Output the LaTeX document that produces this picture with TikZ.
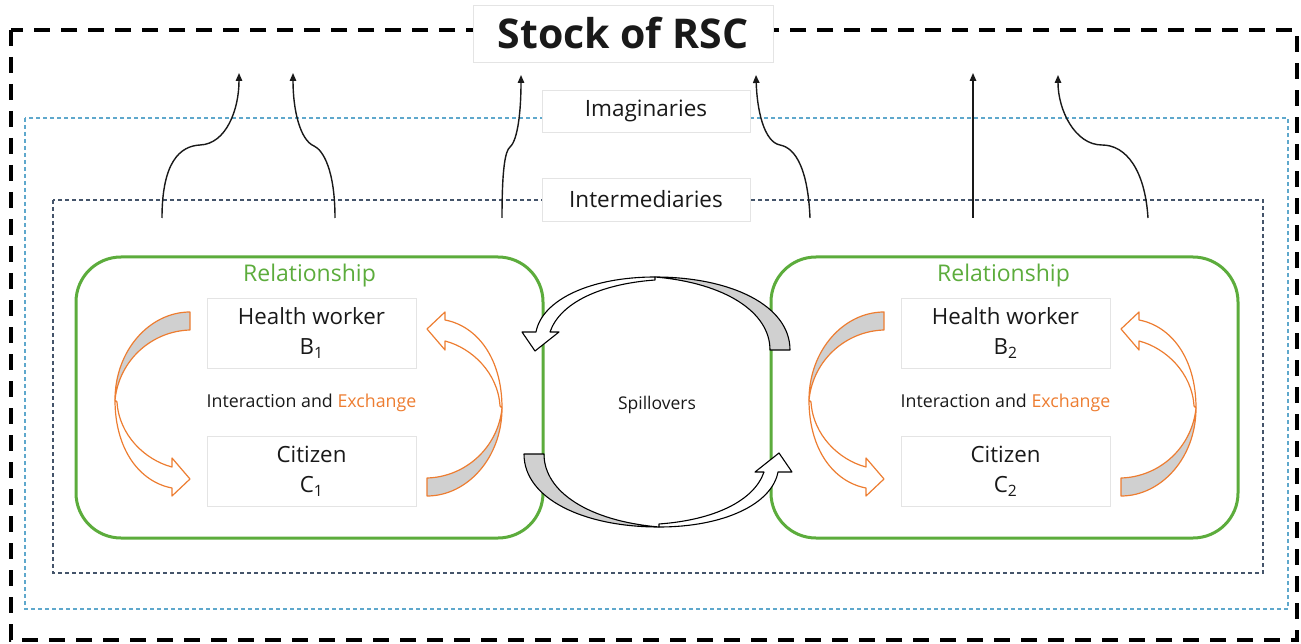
\documentclass[tikz,border=0pt]{standalone}
\usepackage{fontspec}
\setmainfont{Open Sans}
\usetikzlibrary{arrows.meta}
\definecolor{rgreen}{RGB}{92,172,60}
\definecolor{rorange}{RGB}{237,125,49}
\definecolor{rblue}{RGB}{95,168,204}
\definecolor{rslate}{RGB}{68,84,106}
\definecolor{rgray}{RGB}{208,208,208}
\definecolor{rtext}{RGB}{25,25,25}
\definecolor{rfaint}{RGB}{228,228,228}
\newcommand{\relarrowshape}{%
  \filldraw[orangeshape, fill=rgray] (190,312) .. controls (150,312) and (115,350) .. (115,400)
     .. controls (119,360) and (152,331) .. (190,330) -- cycle;
  \filldraw[orangeshape, fill=white] (115,400) .. controls (115,450) and (140,482) .. (172,488)
     -- (172,496) -- (190,479) -- (172,458) -- (172,467)
     .. controls (145,460) and (119,435) .. (117,402) -- cycle;
}
\newcommand{\spillshape}{%
  \filldraw[spillsty, fill=rgray] (790,350) .. controls (790,305) and (730,277) .. (655,277)
     .. controls (725,283) and (770,312) .. (770,350) -- cycle;
  \filldraw[spillsty, fill=white] (655,277) .. controls (590,277) and (542,300) .. (536,332)
     -- (522,332) -- (535,351) -- (559,332) -- (550,332)
     .. controls (560,303) and (600,284) .. (655,280) -- cycle;
}
\begin{document}
\begin{tikzpicture}[x=1pt,y=-1pt,
  outerbox/.style={draw=black, line width=3.5pt, dash pattern=on 16pt off 11pt},
  imagbox/.style={draw=rblue, line width=1.5pt, dash pattern=on 4pt off 3pt},
  interbox/.style={draw=rslate, line width=1.3pt, dash pattern=on 4pt off 3pt},
  relbox/.style={draw=rgreen, line width=3pt, rounded corners=45pt},
  labelbox/.style={draw=rfaint, fill=white, line width=0.8pt, inner sep=0pt, text=rtext},
  actorbox/.style={labelbox, minimum width=209pt, minimum height=70pt, align=center,
     font=\fontsize{22.3}{30}\selectfont},
  orangeshape/.style={draw=rorange, line width=1.2pt, line join=round},
  spillsty/.style={draw=black, line width=1.1pt, line join=round},
  arr/.style={draw=rtext, line width=1.4pt, -{Triangle[length=8pt,width=6.5pt]}},
  plain/.style={inner sep=0pt, text=rtext}
]
\useasboundingbox (0,0) rectangle (1301,644);
% frames
\draw[outerbox] (11,30) rectangle (1297,640);
\draw[imagbox] (25,118) rectangle (1288,609);
\draw[interbox] (53,200) rectangle (1263,573);
% labels on frames
\node[labelbox, minimum width=300pt, minimum height=57pt, font=\fontsize{41}{46}\selectfont\bfseries] (title) at (623,33.5)
  {Stock of RSC};
\node[labelbox, minimum width=208pt, minimum height=42pt, font=\fontsize{22.5}{26}\selectfont] (imag) at (646,111)
  {Imaginaries};
\node[labelbox, minimum width=208pt, minimum height=43pt, font=\fontsize{22.5}{26}\selectfont] (inter) at (646,199.5)
  {Intermediaries};
% upward arrows
\coordinate (a1s) at (162,218); \coordinate (a1e) at (239,73);
\coordinate (a2s) at (335,218); \coordinate (a2e) at (293,73);
\coordinate (a3s) at (502,218); \coordinate (a3e) at (521,75);
\coordinate (a4s) at (810,218); \coordinate (a4e) at (756,75);
\coordinate (a5s) at (973,218); \coordinate (a5e) at (973,73);
\coordinate (a6s) at (1148,218); \coordinate (a6e) at (1058,75);
\draw[arr] (a1s) .. controls (162,162) and (180,146) .. (200,145) .. controls (226,144) and (239,110) .. (a1e);
\draw[arr] (a2s) .. controls (335,170) and (323,150) .. (314,146) .. controls (300,140) and (293,110) .. (a2e);
\draw[arr] (a3s) .. controls (502,170) and (505,151) .. (510,147) .. controls (518,140) and (521,110) .. (a3e);
\draw[arr] (a4s) .. controls (808,170) and (796,148) .. (780,145) .. controls (764,142) and (757,110) .. (a4e);
\draw[arr] (a5s) -- (a5e);
\draw[arr] (a6s) .. controls (1145,170) and (1126,145) .. (1102,145) .. controls (1075,145) and (1058,110) .. (a6e);
% relationship boxes
\draw[relbox] (76,257) rectangle (543,538);
\draw[relbox] (771,257) rectangle (1238,538);
\node[plain, text=rgreen, font=\fontsize{23}{27}\selectfont] (relL) at (309.5,276) {Relationship};
\node[plain, text=rgreen, font=\fontsize{23}{27}\selectfont] (relR) at (1003.5,276) {Relationship};
% actor boxes
\node[actorbox] (hwL) at (311.5,333) {Health worker\\B\textsubscript{1}};
\node[actorbox] (citL) at (311.5,471.5) {Citizen\\C\textsubscript{1}};
\node[actorbox] (hwR) at (1005.5,333) {Health worker\\B\textsubscript{2}};
\node[actorbox] (citR) at (1005.5,471.5) {Citizen\\C\textsubscript{2}};
\node[plain, font=\fontsize{17.8}{21}\selectfont] (intL) at (311.5,403) {Interaction and \textcolor{rorange}{Exchange}};
\node[plain, font=\fontsize{17.8}{21}\selectfont] (intR) at (1005.5,403) {Interaction and \textcolor{rorange}{Exchange}};
% orange exchange arrows
\relarrowshape
\begin{scope}[rotate around={180:(308.5,404)}]\relarrowshape\end{scope}
\begin{scope}[shift={(694,0)}]
  \relarrowshape
  \begin{scope}[rotate around={180:(308.5,404)}]\relarrowshape\end{scope}
\end{scope}
% spillovers
\spillshape
\begin{scope}[rotate around={180:(657,402)}]\spillshape\end{scope}
\node[plain, font=\fontsize{17.5}{21}\selectfont] (spill) at (657,405) {Spillovers};
\end{tikzpicture}
\end{document}
